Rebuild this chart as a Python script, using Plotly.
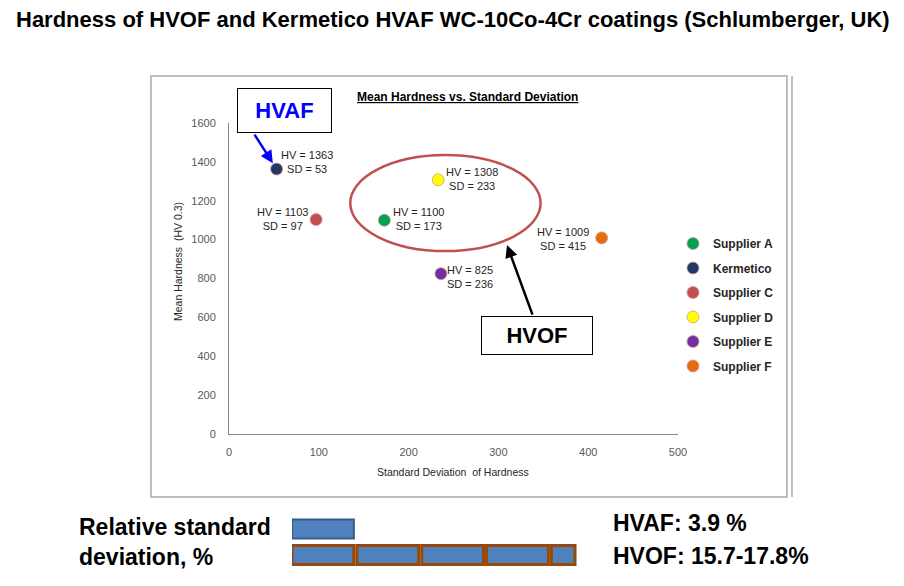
import plotly.graph_objects as go

W, H = 904, 586

# ---- data ----
suppliers = ["Supplier A", "Kermetico", "Supplier C", "Supplier D", "Supplier E", "Supplier F"]
sd_values = [173, 53, 97, 233, 236, 415]
hv_values = [1100, 1363, 1103, 1308, 825, 1009]
colors = ["#00a24f", "#1f3864", "#c0504d", "#ffff00", "#7030a0", "#e46c0a"]

x_ticks = [0, 100, 200, 300, 400, 500]
y_ticks = [0, 200, 400, 600, 800, 1000, 1200, 1400, 1600]

rsd_hvaf = [3.9]
rsd_hvof = [3.9, 3.9, 3.9, 3.9, 1.6]
rsd_rows = ["HVOF", "HVAF"]


def px(x):
    return x / W


def py(y):
    return 1 - y / H


# label offsets (pixels) for each point, same order as suppliers
label_dx = [34, 30, -34, 34, 29, -39]
label_dy = [1, 7, 1, 1, -3, -1]

fig = go.Figure()

for name, sd, hv, col in zip(suppliers, sd_values, hv_values, colors):
    fig.add_trace(go.Scatter(
        x=[sd], y=[hv], mode="markers", name=name, legendgroup=name,
        marker=dict(size=12, color=col, line=dict(color="rgba(215,150,150,0.8)", width=1)),
        xaxis="x", yaxis="y",
    ))

# relative standard deviation bars
gap = 0.18
fig.add_trace(go.Bar(
    y=[rsd_rows[1]] * len(rsd_hvaf), x=[v - gap for v in rsd_hvaf],
    base=[sum(rsd_hvaf[:i]) for i in range(len(rsd_hvaf))],
    orientation="h", width=0.74, showlegend=False,
    marker=dict(color="#4f81bd", line=dict(color="#385d8a", width=2)),
    xaxis="x2", yaxis="y2",
))
fig.add_trace(go.Bar(
    y=[rsd_rows[0]] * len(rsd_hvof), x=[v - gap for v in rsd_hvof],
    base=[sum(rsd_hvof[:i]) for i in range(len(rsd_hvof))],
    orientation="h", width=0.74, showlegend=False,
    marker=dict(color="#4f81bd", line=dict(color="#984807", width=3)),
    xaxis="x2", yaxis="y2",
))

FONT = "Liberation Sans, Arial"
tick_font = dict(family=FONT, size=11, color="#595959")


def note(x, y, text, size, color="black", bold=False, **kw):
    d = dict(x=px(x), y=py(y), xref="paper", yref="paper", showarrow=False,
             xanchor=kw.pop("xanchor", "center"), yanchor="middle", text=text,
             font=dict(family=FONT, size=size, color=color,
                       weight="bold" if bold else "normal"))
    d.update(kw)
    return d


annotations = []
for sd, hv, dx, dy in zip(sd_values, hv_values, label_dx, label_dy):
    annotations.append(dict(
        x=sd, y=hv, xref="x", yref="y", showarrow=False,
        xanchor="center", yanchor="middle",
        text=f"HV = {hv}<br>SD = {sd}", align="center",
        xshift=dx, yshift=dy,
        font=dict(family=FONT, size=11, color="#262626"),
    ))

annotations += [
    note(453, 20, "Hardness of HVOF and Kermetico HVAF WC-10Co-4Cr coatings (Schlumberger, UK)",
         22, bold=True),
    note(467, 97, "<u>Mean Hardness vs. Standard Deviation</u>", 12, bold=True),
    note(453, 472, "Standard Deviation  of Hardness", 10.5, color="#262626"),
    note(178, 262, "Mean Hardness  (HV 0.3)", 10.5, color="#262626", textangle=-90),
    # HVAF callout
    note(284.5, 110.5, "HVAF", 22, color="#0000ff", bold=True, width=93, height=43,
         borderpad=0, bordercolor="black", borderwidth=1, bgcolor="white"),
    dict(x=sd_values[1], y=hv_values[1], xref="x", yref="y", ax=-23, ay=-36,
         showarrow=True, arrowhead=2, arrowsize=1, arrowwidth=2.5, arrowcolor="#0000ff",
         standoff=7, text=""),
    # HVOF callout
    dict(x=309.6, y=972, xref="x", yref="y", ax=26, ay=71,
         showarrow=True, arrowhead=2, arrowsize=1, arrowwidth=2.5, arrowcolor="black",
         text=""),
    note(537, 335.5, "HVOF", 22, bold=True, width=110, height=37,
         borderpad=0, bordercolor="black", borderwidth=1, bgcolor="white"),
    # bottom section
    note(77, 542, "Relative standard<br>deviation, %", 23, bold=True,
         xanchor="left", align="left"),
    note(611, 523, "HVAF: 3.9 %", 23, bold=True, xanchor="left"),
    note(611, 556, "HVOF: 15.7-17.8%", 23, bold=True, xanchor="left"),
]

shapes = [
    dict(type="rect", xref="paper", yref="paper", x0=px(151), x1=px(787), y0=py(76), y1=py(497),
         line=dict(color="#bfbfbf", width=2)),
    dict(type="line", xref="paper", yref="paper", x0=px(792), x1=px(792), y0=py(76), y1=py(497),
         line=dict(color="#bfbfbf", width=2)),
    dict(type="circle", xref="x", yref="y", x0=135, x1=347, y0=941, y1=1435,
         line=dict(color="#c0504d", width=2.5)),
]

fig.update_layout(
    width=W, height=H,
    margin=dict(l=0, r=0, t=0, b=0, pad=0, autoexpand=False),
    paper_bgcolor="white", plot_bgcolor="white",
    barmode="overlay",
    xaxis=dict(domain=[px(229), px(678)], range=[0, 500], tickvals=x_ticks,
               showgrid=False, zeroline=False, showline=True, linecolor="#868686",
               linewidth=1, ticks="", ticklabelstandoff=8, tickfont=tick_font,
               automargin=False),
    yaxis=dict(domain=[py(434), py(123)], range=[0, 1600], tickvals=y_ticks,
               showgrid=False, zeroline=False, showline=True, linecolor="#868686",
               linewidth=1, ticks="", ticklabelstandoff=10, tickfont=tick_font,
               automargin=False),
    xaxis2=dict(domain=[px(292), px(578)], range=[0, 17.2], visible=False, automargin=False),
    yaxis2=dict(domain=[py(568), py(516)], range=[-0.5, 1.5], visible=False, automargin=False,
                categoryorder="array", categoryarray=rsd_rows),
    legend=dict(x=px(673), y=py(229), xanchor="left", yanchor="top",
                tracegroupgap=5.5, bgcolor="rgba(0,0,0,0)",
                font=dict(family=FONT, size=12, color="#262626", weight="bold")),
    annotations=annotations,
    shapes=shapes,
)

fix_page = (
    "document.documentElement.style.overflow='hidden';"
    "document.body.style.margin='0';"
    "document.body.style.overflow='hidden';"
    "document.body.style.height='586px';"
)
fig.write_html("out.html", config={"displayModeBar": False}, post_script=fix_page)
